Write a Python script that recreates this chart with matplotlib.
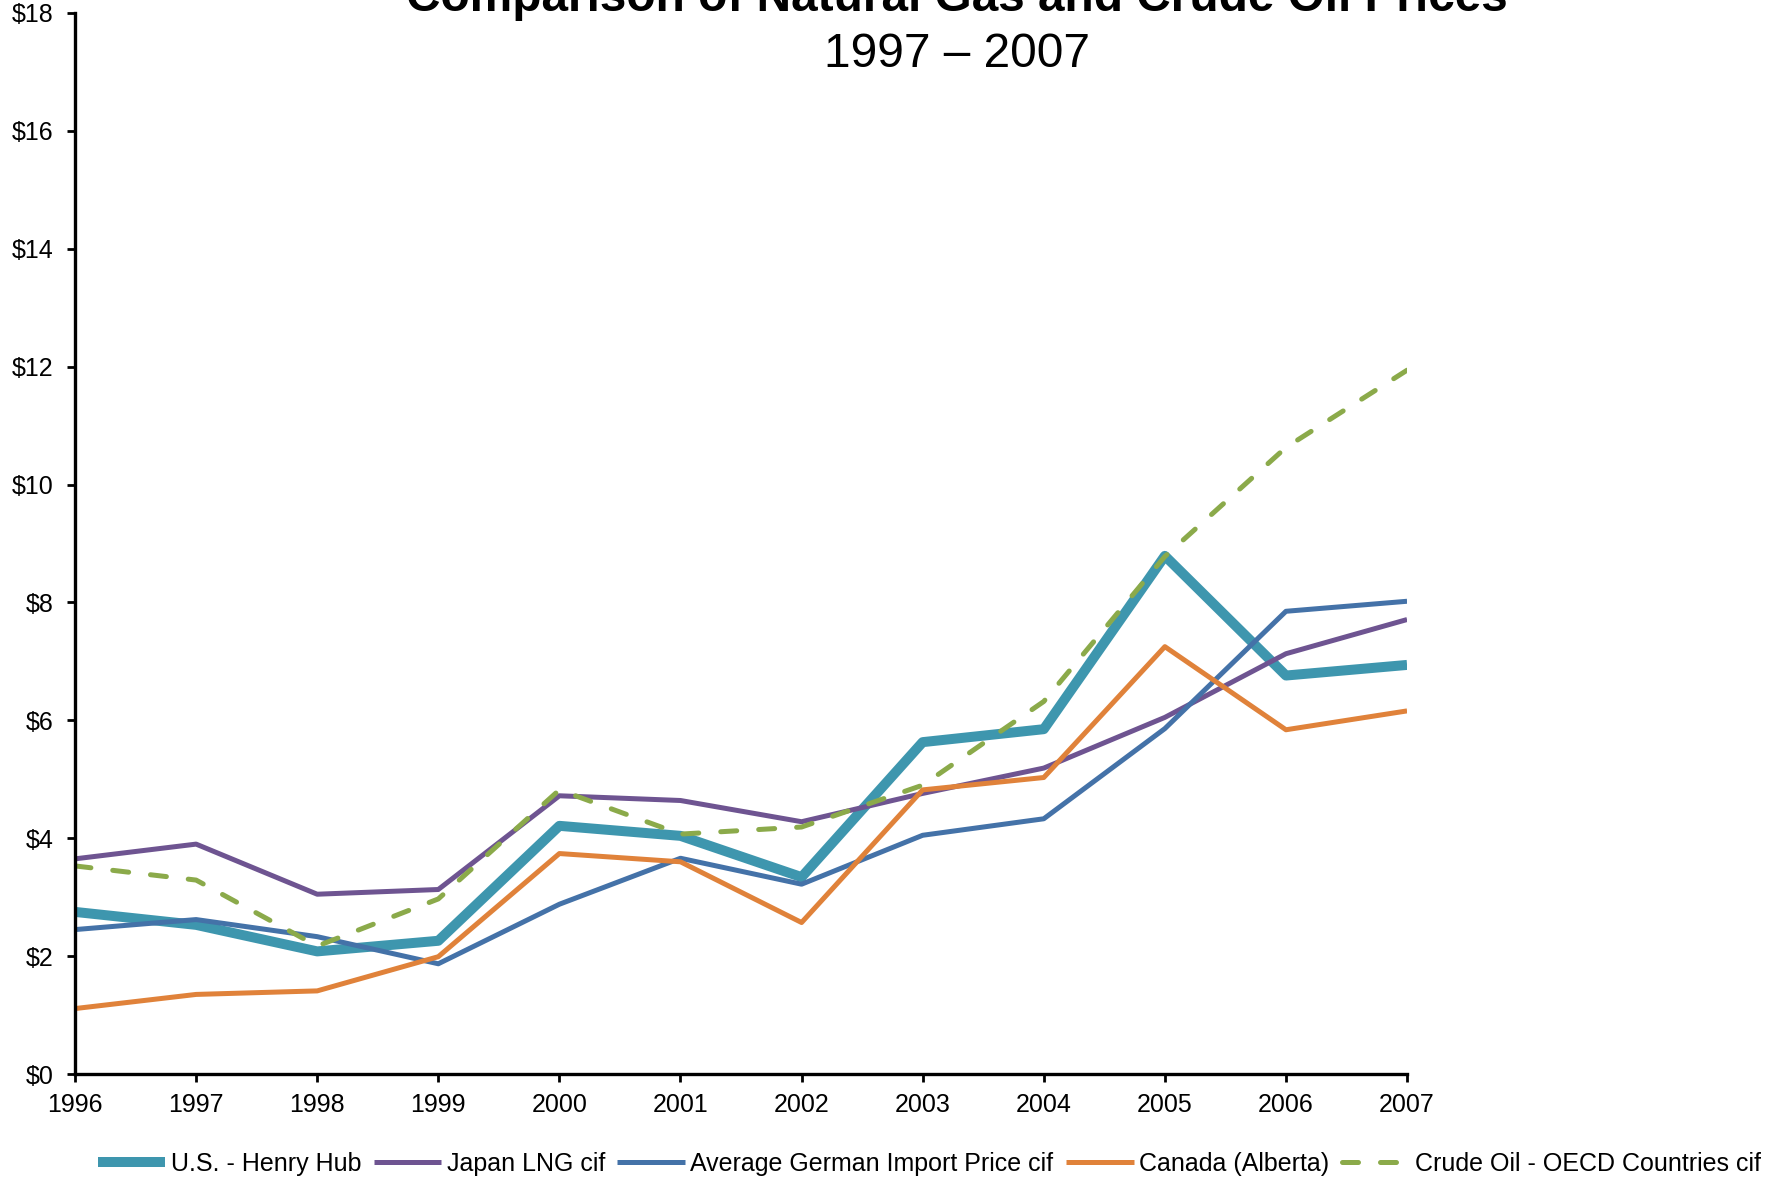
import matplotlib
matplotlib.use("Agg")
import matplotlib.pyplot as plt
from matplotlib.ticker import FuncFormatter, MultipleLocator

plt.rcParams['font.family'] = ['Liberation Sans', 'DejaVu Sans']

years = [1996, 1997, 1998, 1999, 2000, 2001, 2002, 2003, 2004, 2005, 2006, 2007]
henry_hub = [2.75, 2.53, 2.08, 2.26, 4.21, 4.04, 3.34, 5.63, 5.85, 8.79, 6.76, 6.94]
japan_lng = [3.65, 3.90, 3.05, 3.13, 4.72, 4.64, 4.28, 4.76, 5.19, 6.05, 7.13, 7.71]
german = [2.45, 2.62, 2.33, 1.87, 2.88, 3.66, 3.22, 4.05, 4.33, 5.86, 7.85, 8.02]
canada = [1.11, 1.35, 1.41, 1.99, 3.74, 3.60, 2.57, 4.82, 5.03, 7.25, 5.84, 6.16]
crude = [3.53, 3.29, 2.17, 2.97, 4.82, 4.07, 4.19, 4.90, 6.32, 8.78, 10.63, 11.94]

labels = ["U.S. - Henry Hub", "Japan LNG cif", "Average German Import Price cif",
          "Canada (Alberta)", "Crude Oil - OECD Countries cif"]
title_line1 = "Comparison of Natural Gas and Crude Oil Prices"
title_line2 = "1997 \u2013 2007"

fig = plt.figure(figsize=(17.69, 11.81), dpi=100)
ax = fig.add_axes([0.0424, 0.0906, 0.7530, 0.8984])

ax.plot(years, henry_hub, color='#3E96AE', lw=7.2, label=labels[0], solid_capstyle='butt')
ax.plot(years, japan_lng, color='#6E5491', lw=3.6, label=labels[1], solid_capstyle='butt')
ax.plot(years, german, color='#4472A8', lw=3.6, label=labels[2], solid_capstyle='butt')
ax.plot(years, canada, color='#E0823A', lw=3.6, label=labels[3], solid_capstyle='butt')
ax.plot(years, crude, color='#8BAA4A', lw=3.6, label=labels[4],
        linestyle=(0, (3.2, 4.4)), dash_capstyle='round')

ax.set_xlim(1996, 2007)
ax.set_ylim(0, 18)
ax.set_xticks(years)
ax.set_xticklabels([str(y) for y in years])
ax.yaxis.set_major_locator(MultipleLocator(2))
ax.yaxis.set_major_formatter(FuncFormatter(lambda v, p: f"${int(v)}"))

for s in ['top', 'right']:
    ax.spines[s].set_visible(False)
for s in ['left', 'bottom']:
    ax.spines[s].set_linewidth(2.4)
ax.tick_params(axis='both', direction='out', length=5.5, width=2, labelsize=18, colors='black')
ax.tick_params(axis='y', pad=10)
ax.tick_params(axis='x', pad=8)

fig.text(0.541, 0.9907, title_line1, ha='center', va='baseline', fontsize=34.4, fontweight='bold')
fig.text(0.541, 0.9435, title_line2, ha='center', va='baseline', fontsize=34.4)

fig.legend(loc='center', bbox_to_anchor=(0.5252, 0.0144), ncol=5, frameon=False,
           fontsize=18, handlelength=2.7, handletextpad=0.22, columnspacing=0.5,
           borderpad=0, borderaxespad=0)

fig.savefig("out.png", dpi=100)
